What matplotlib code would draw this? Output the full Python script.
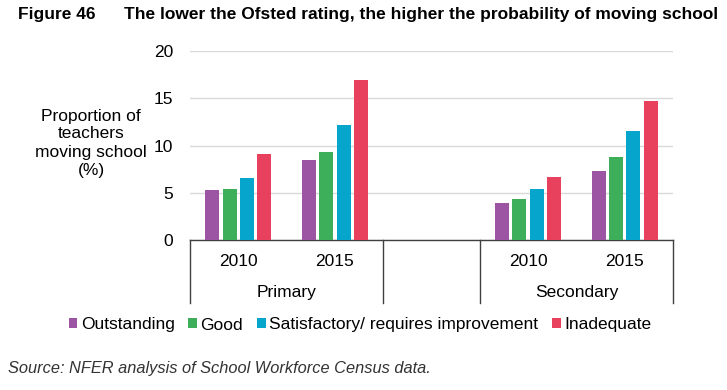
import matplotlib
matplotlib.use("Agg")
import matplotlib.pyplot as plt
import numpy as np

plt.rcParams['font.family'] = ['Liberation Sans', 'DejaVu Sans']

categories = ["2010", "2015", "", "2010", "2015"]
groups = ["Primary", "", "Secondary"]
series_names = ["Outstanding", "Good", "Satisfactory/ requires improvement", "Inadequate"]
outstanding = [5.3, 8.5, np.nan, 3.9, 7.3]
good = [5.4, 9.3, np.nan, 4.3, 8.8]
satisfactory = [6.6, 12.2, np.nan, 5.4, 11.5]
inadequate = [9.1, 16.9, np.nan, 6.7, 14.7]
colors = ["#9B55A3", "#3DAF5A", "#06A6CC", "#E8415E"]
yticks = [0, 5, 10, 15, 20]

FS = 12.5
W, H = 727, 390
fig = plt.figure(figsize=(W / 100, H / 100), dpi=100)
ax = fig.add_axes([190 / W, 1 - 240 / H, (673 - 190) / W, (240 - 51) / H])

x = np.arange(len(categories))
step, bw = 0.179, 0.145
all_series = [outstanding, good, satisfactory, inadequate]
for i, (vals, c, name) in enumerate(zip(all_series, colors, series_names)):
    ax.bar(x + (i - 1.5) * step, vals, width=bw, color=c, label=name, zorder=3)

ax.set_xlim(-0.5, len(categories) - 0.5)
ax.set_ylim(0, 20)
ax.set_yticks(yticks)
ax.set_yticklabels([str(t) for t in yticks], fontsize=FS, color="#000000")
ax.tick_params(axis='y', length=0, pad=12)
ax.set_xticks([])
ax.grid(axis='y', color="#D9D9D9", linewidth=1, zorder=0)
for s in ["left", "top", "right"]:
    ax.spines[s].set_visible(False)
ax.spines["bottom"].set_color("#404040")
ax.spines["bottom"].set_linewidth(1)

# category box below axis
trans = ax.get_xaxis_transform()
px = 1 / (240 - 51)  # axes fraction per pixel
bottom_y = -(303 - 240) * px
for xv in [-0.5, 1.5, 2.5, 4.5]:
    ax.plot([xv, xv], [0, bottom_y], transform=trans, color="#404040", lw=1, clip_on=False)
for xi, lab in zip(x, categories):
    if lab:
        ax.text(xi, -(262 - 240) * px, lab, transform=trans, ha="center", va="center", fontsize=FS)
group_centers = [0.5, 2, 3.5]
for gc, g in zip(group_centers, groups):
    if g:
        ax.text(gc, -(293 - 240) * px, g, transform=trans, ha="center", va="center", fontsize=FS)

# y label
fig.text(91 / W, 1 - 143 / H, "Proportion of\nteachers\nmoving school\n(%)", ha="center", va="center",
         fontsize=FS, linespacing=1.25)

# title
fig.text(18 / W, 1 - 14 / H, "Figure 46", fontsize=FS, fontweight="bold", va="center", ha="left")
fig.text(124 / W, 1 - 14 / H, "The lower the Ofsted rating, the higher the probability of moving school",
         fontsize=FS, fontweight="bold", va="center", ha="left")

# legend
leg = fig.legend(loc="center", bbox_to_anchor=(360 / W, 1 - 325 / H), ncol=4, frameon=False,
                 fontsize=FS, handlelength=0.5, handleheight=0.5, handletextpad=0.2,
                 columnspacing=0.8, borderaxespad=0)

# source
fig.text(8 / W, 1 - 368 / H, "Source: NFER analysis of School Workforce Census data.", fontsize=11.8,
         style="italic", color="#333333", va="center", ha="left")

fig.savefig("out.png", dpi=100)
